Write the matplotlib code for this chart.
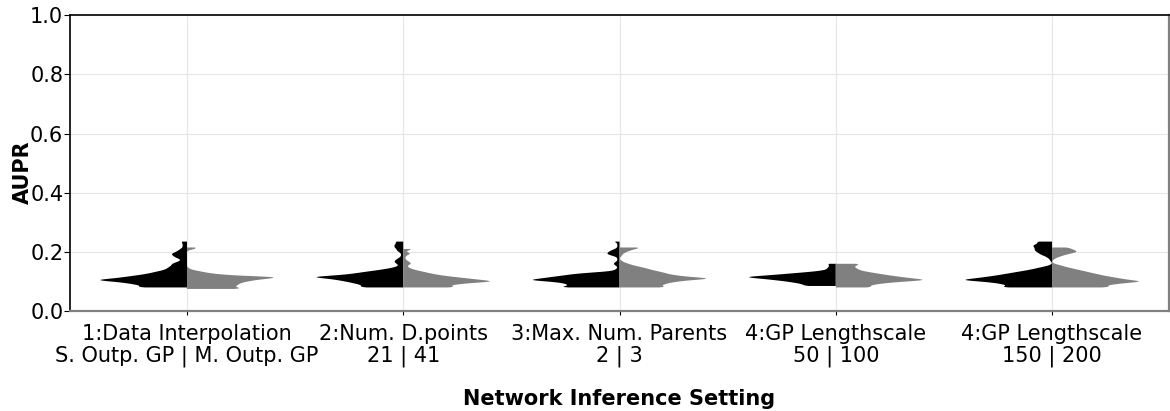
import numpy as np
import matplotlib.pyplot as plt

# AUPR value bins (observed values) and how often each occurred per setting
aupr_bins = np.round(np.arange(0.075, 0.2351, 0.005), 3)

settings = ['1:Data Interpolation\nS. Outp. GP | M. Outp. GP',
            '2:Num. D.points\n21 | 41',
            '3:Max. Num. Parents\n2 | 3',
            '4:GP Lengthscale\n50 | 100',
            '4:GP Lengthscale\n150 | 200']

# left half (first option) counts
left_counts = [
    [0, 26, 20, 24, 28, 34, 44, 34, 29, 24, 19, 16, 13, 10, 9, 8, 7, 7, 5, 3, 3, 5, 6, 7, 7, 5, 4, 3, 2, 2, 2, 2, 3],
    [0, 22, 18, 20, 23, 26, 30, 34, 44, 32, 24, 20, 15, 10, 6, 3, 2, 3, 4, 4, 3, 2, 1, 1, 1, 2, 3, 3, 4, 4, 4, 3, 4],
    [0, 32, 23, 24, 26, 32, 44, 36, 32, 26, 22, 14, 3, 2, 1, 1, 2, 3, 2, 1, 1, 1, 2, 5, 6, 5, 4, 2, 1, 1, 1, 1, 3],
    [0, 0, 16, 14, 18, 22, 28, 34, 44, 32, 24, 16, 8, 4, 4, 3, 3, 4, 0, 0, 0, 0, 0, 0, 0, 0, 0, 0, 0, 0, 0, 0, 0],
    [0, 27, 20, 22, 26, 32, 44, 36, 31, 26, 22, 18, 14, 10, 7, 4, 1, 0, 0, 1, 1, 2, 3, 5, 6, 7, 8, 8, 8, 9, 8, 6, 8],
]
# right half (second option) counts
right_counts = [
    [30, 22, 23, 24, 25, 28, 32, 38, 46, 22, 14, 9, 6, 2, 1, 0, 0, 0, 0, 0, 0, 0, 0, 0, 0, 0, 0, 4, 5, 0, 0, 0, 0],
    [0, 28, 20, 24, 30, 44, 36, 30, 24, 18, 14, 11, 8, 5, 3, 2, 2, 4, 3, 2, 1, 1, 1, 2, 4, 1, 2, 5, 0, 0, 0, 0, 0],
    [0, 24, 18, 20, 22, 26, 32, 44, 32, 26, 22, 20, 17, 14, 12, 9, 6, 4, 2, 1, 0, 0, 1, 1, 2, 3, 5, 7, 11, 0, 0, 0, 0],
    [0, 18, 14, 17, 22, 30, 42, 34, 29, 24, 20, 16, 12, 10, 9, 8, 9, 12, 0, 0, 0, 0, 0, 0, 0, 0, 0, 0, 0, 0, 0, 0, 0],
    [0, 31, 24, 28, 34, 44, 36, 32, 28, 24, 21, 18, 15, 12, 9, 6, 4, 1, 0, 0, 1, 2, 4, 6, 9, 12, 11, 9, 8, 0, 0, 0, 0],
]

left_data = [np.repeat(aupr_bins, c) for c in left_counts]
right_data = [np.repeat(aupr_bins, c) for c in right_counts]
pos = np.arange(len(settings))


def bw(kde):
    # fixed kernel width in AUPR units
    return 0.0035 / np.std(kde.dataset, ddof=1)


fig, ax = plt.subplots(figsize=(11.7, 4.11), dpi=100)
fig.subplots_adjust(left=0.06, right=0.999, top=0.963, bottom=0.243)

ax.grid(True, color='#e6e6e6', linewidth=0.8)
ax.set_axisbelow(True)

for data, side, col in [(left_data, 'low', 'black'), (right_data, 'high', '#808080')]:
    parts = ax.violinplot(data, positions=pos, widths=0.8, side=side,
                          showextrema=False, points=400, bw_method=bw)
    for b in parts['bodies']:
        b.set_facecolor(col)
        b.set_edgecolor('none')
        b.set_alpha(1)

ax.set_xlim(-0.54, 4.54)
ax.set_ylim(0, 1)
ax.set_yticks([0, 0.2, 0.4, 0.6, 0.8, 1.0])
ax.set_yticklabels(['0.0', '0.2', '0.4', '0.6', '0.8', '1.0'])
ax.set_xticks(pos)
ax.set_xticklabels(settings, fontsize=15, linespacing=1.1)
ax.tick_params(axis='y', labelsize=15, length=4, pad=1)
ax.tick_params(axis='x', length=3, pad=6)

ax.set_xlabel('Network Inference Setting', fontsize=15, fontweight='bold', labelpad=16)
ax.set_ylabel('AUPR', fontsize=15, fontweight='bold')
ax.yaxis.set_label_coords(-0.034, 0.47)

for s in ['left', 'top']:
    ax.spines[s].set_color('black')
    ax.spines[s].set_linewidth(1.2)
for s in ['bottom', 'right']:
    ax.spines[s].set_color('#808080')
    ax.spines[s].set_linewidth(1.6)

plt.savefig('out.png', dpi=100)
